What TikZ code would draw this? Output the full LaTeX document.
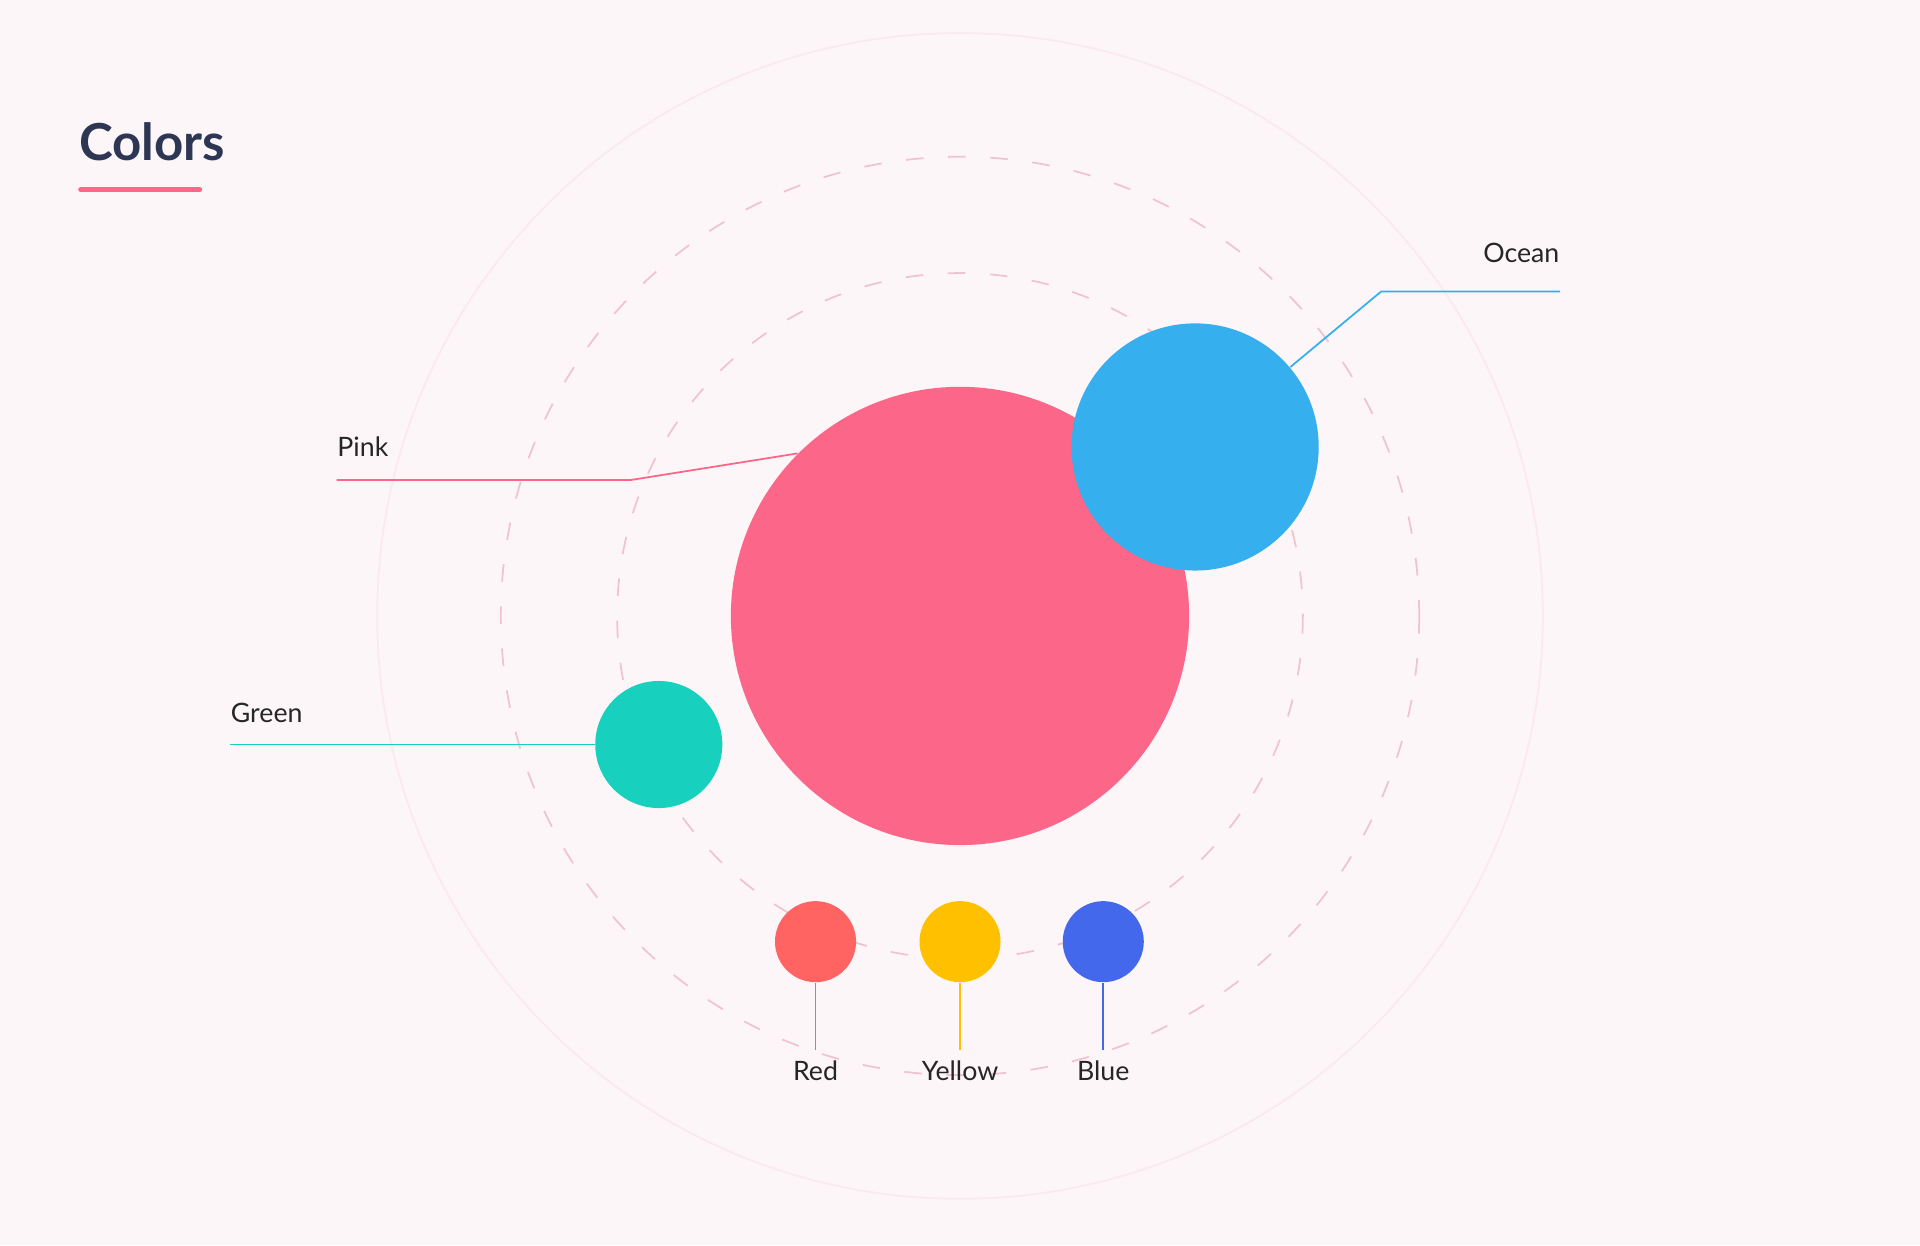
\documentclass[tikz,border=0pt]{standalone}
\usepackage{fontspec}
\setmainfont{Lato}
\usetikzlibrary{positioning}
\definecolor{bgpink}{HTML}{FDF6F8}
\definecolor{navy}{HTML}{2D3652}
\definecolor{pink}{HTML}{FC6688}
\definecolor{ocean}{HTML}{36AFEE}
\definecolor{green}{HTML}{17D1BE}
\definecolor{red}{HTML}{FF6462}
\definecolor{yellow}{HTML}{FFC000}
\definecolor{blue}{HTML}{4468EB}
\definecolor{ring}{HTML}{F0C3D3}
\tikzset{
  dot/.style={circle, inner sep=0pt},
  lbl/.style={font=\fontsize{7.6}{9}\selectfont, text=black!85, inner sep=0pt},
  lead/.style={line width=0.5pt}
}
\begin{document}
\begin{tikzpicture}[x=0.012245cm, y=-0.012245cm]
        % background %
        \fill[bgpink] (0,0) rectangle (1568,1017);
        \useasboundingbox (0,0) rectangle (1568,1017);

        % rings %
        \draw[ring!35, line width=0.5pt] (784,503) circle[radius=476];
        \draw[ring, line width=0.5pt, dash pattern=on 5pt off 7pt] (784,503) circle[radius=375];
        \draw[ring, line width=0.5pt, dash pattern=on 5pt off 7pt] (784,503) circle[radius=280];

        % title %
        \node[anchor=west, font=\fontsize{14.5}{16}\selectfont\bfseries, text=navy, inner sep=0pt] (title) at (64,116) {Colors};
        \draw[pink, line width=1.5pt, line cap=round] (66,155) -- (163,155);

        % nodes %
        \node[dot, fill=pink, minimum size=4.58cm] (pk) at (784,503) {};
        \node[dot, fill=ocean, minimum size=2.47cm] (oc) at (976,365) {};
        \node[dot, fill=green, minimum size=1.27cm] (gr) at (538,608) {};
        \node[dot, fill=red, minimum size=0.81cm] (rd) at (666,769) {};
        \node[dot, fill=yellow, minimum size=0.81cm] (ye) at (784,769) {};
        \node[dot, fill=blue, minimum size=0.81cm] (bl) at (901,769) {};

        \node[lbl, anchor=south west] (pkl) at (275,373) {Pink};
        \node[lbl, anchor=south east] (ocl) at (1274,215) {Ocean};
        \node[lbl, anchor=south west] (grl) at (188,591) {Green};
        \node[lbl, anchor=north] (rdl) at (666,866) {Red};
        \node[lbl, anchor=north] (yel) at (784,866) {Yellow};
        \node[lbl, anchor=north] (bll) at (901,866) {Blue};

        \coordinate (pka) at (275,392);
        \coordinate (oca) at (1274,238);
        \coordinate (gra) at (188,608);

        % edges %
        \draw[lead, pink] (pka) -- (515,392) -- (pk.135);
        \draw[lead, ocean] (oca) -- (1128,238) -- (oc.40);
        \draw[lead, green] (gra) -- (gr.west);
        \draw[lead, red] (rd.south) -- ++(0,55);
        \draw[lead, yellow] (ye.south) -- ++(0,55);
        \draw[lead, blue] (bl.south) -- ++(0,55);
\end{tikzpicture}
\end{document}
